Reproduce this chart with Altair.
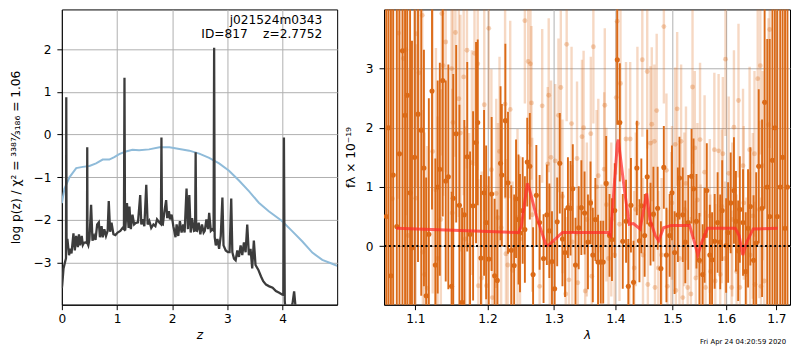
import altair as alt
import pandas as pd

FONT = "DejaVu Sans"

# ---------------- left panel: p(z) ----------------
pz_z = [0.000, 0.007, 0.030, 0.060, 0.075, 0.080, 0.085, 0.100, 0.130, 0.150,
        0.175, 0.210, 0.235, 0.260, 0.290, 0.310, 0.330, 0.360, 0.380, 0.400,
        0.430, 0.455, 0.460, 0.465, 0.480, 0.500, 0.530, 0.555, 0.585, 0.610,
        0.640, 0.670, 0.690, 0.720, 0.740, 0.770, 0.800, 0.830, 0.850, 0.875,
        0.900, 0.935, 0.970, 1.010, 1.060, 1.100, 1.125, 1.135, 1.145, 1.150,
        1.180, 1.210, 1.225, 1.250, 1.280, 1.310, 1.345, 1.380, 1.420, 1.440,
        1.465, 1.495, 1.530, 1.555, 1.585, 1.620, 1.660, 1.695, 1.725, 1.770,
        1.795, 1.805, 1.815, 1.830, 1.860, 1.890, 1.910, 1.940, 1.960, 1.990,
        2.020, 2.060, 2.080, 2.110, 2.140, 2.170, 2.200, 2.225, 2.260, 2.285,
        2.310, 2.335, 2.360, 2.395, 2.415, 2.425, 2.435, 2.450, 2.480, 2.510,
        2.540, 2.570, 2.590, 2.620, 2.650, 2.670, 2.700, 2.730, 2.750, 2.760,
        2.770, 2.790, 2.820, 2.850, 2.880, 2.910, 2.930, 2.970, 3.010, 3.040,
        3.070, 3.090, 3.120, 3.150, 3.180, 3.210, 3.240, 3.270, 3.300, 3.330,
        3.360, 3.390, 3.420, 3.450, 3.480, 3.510, 3.560, 3.610, 3.650, 3.700,
        3.760, 3.820, 3.880, 3.940, 3.990, 4.015, 4.025, 4.040, 4.060, 4.120,
        4.180, 4.210, 4.240]
pz_logp = [-3.60, -3.52, -3.14, -2.98, -2.90, 0.87, -2.50, -2.45, -2.83, -2.68,
           -2.79, -2.32, -2.72, -2.38, -2.64, -2.34, -2.60, -2.38, -2.59, -2.54,
           -2.53, -2.55, -0.30, -2.55, -2.60, -2.46, -1.65, -2.49, -2.38, -2.47,
           -2.11, -2.06, -2.41, -2.15, -2.41, -2.22, -2.38, -2.26, -1.56, -2.28,
           -2.07, -2.34, -2.36, -2.30, -2.26, -2.19, -2.22, 1.33, -2.25, -2.22,
           -1.61, -2.19, -1.69, -2.22, -1.88, -2.11, -2.07, -2.06, -1.42, -2.11,
           -1.99, -2.15, -1.18, -2.11, -2.03, -2.19, -2.11, -2.15, -1.99, -2.07,
           -2.10, -0.07, -2.10, -2.11, -1.80, -1.54, -1.96, -1.80, -1.99, -1.88,
           -2.15, -2.41, -2.11, -2.38, -2.03, -2.30, -2.11, -2.30, -1.27, -2.22,
           -1.42, -2.30, -1.96, -2.26, -2.25, -0.42, -2.25, -2.26, -2.07, -2.34,
           -2.11, -2.30, -2.26, -1.99, -2.22, -1.84, -2.26, -2.22, -2.25, 2.03,
           -2.40, -2.60, -2.45, -2.68, -2.38, -1.48, -2.60, -2.72, -2.76, -2.76,
           -1.50, -2.76, -2.91, -2.95, -2.72, -2.87, -2.60, -2.83, -2.53, -2.76,
           -2.11, -2.83, -2.68, -3.14, -2.49, -3.06, -3.17, -3.33, -3.44, -3.52,
           -3.56, -3.59, -3.67, -3.71, -3.75, -3.76, -0.07, -3.90, -4.20, -4.30,
           -3.97, -3.68, -4.10]

chi_z = [0.00, 0.048, 0.14, 0.26, 0.38, 0.50, 0.62, 0.74, 0.86, 0.95,
         1.04, 1.16, 1.28, 1.40, 1.58, 1.77, 1.95, 2.13, 2.31, 2.49,
         2.67, 2.85, 3.03, 3.21, 3.39, 3.57, 3.75, 3.99, 4.17, 4.36,
         4.54, 4.72, 4.90, 4.99]
chi_v = [-1.61, -1.27, -1.00, -0.79, -0.76, -0.74, -0.68, -0.59, -0.59, -0.53,
         -0.46, -0.40, -0.36, -0.37, -0.35, -0.30, -0.30, -0.34, -0.38, -0.45,
         -0.55, -0.68, -0.85, -1.08, -1.33, -1.60, -1.80, -2.03, -2.26, -2.51,
         -2.77, -2.94, -3.03, -3.08]

z_ticks = [0, 1, 2, 3, 4]
logp_ticks = [-3, -2, -1, 0, 1, 2]

# ---------------- right panel: spectrum ----------------
dark_lam = [1.062, 1.065, 1.068, 1.071, 1.0756, 1.0791, 1.083, 1.0864, 1.0893, 1.093,
            1.0955, 1.0990, 1.1035, 1.1078, 1.1114, 1.1144, 1.1180, 1.1223, 1.1268, 1.1300,
            1.1329, 1.1369, 1.1410, 1.1446, 1.1491, 1.1514, 1.1555, 1.1600, 1.1637, 1.1669,
            1.1710, 1.1750, 1.1793, 1.1835, 1.1859, 1.1905, 1.1950, 1.1980, 1.2018, 1.2060,
            1.2103, 1.2142, 1.2190, 1.2209, 1.2261, 1.2300, 1.2348, 1.2392, 1.2420, 1.2457,
            1.2479, 1.2520, 1.2553, 1.2589, 1.2628, 1.2678, 1.2728, 1.2778, 1.2839, 1.2890,
            1.2929, 1.2970, 1.3012, 1.3052, 1.3093, 1.3135, 1.3176, 1.3222, 1.3264, 1.3300,
            1.3343, 1.3395, 1.3438, 1.3490, 1.3545, 1.3587, 1.3625, 1.3667, 1.3711, 1.3755,
            1.3797, 1.3846, 1.3902, 1.3943, 1.3990, 1.4033, 1.4076, 1.4126, 1.4182, 1.4221,
            1.4266, 1.4311, 1.4368, 1.4413, 1.4446, 1.4504, 1.4549, 1.4607, 1.4658, 1.4733,
            1.4791, 1.4843, 1.4890, 1.4948, 1.4990, 1.5037, 1.5097, 1.5126, 1.5187, 1.5233,
            1.5287, 1.5348, 1.5385, 1.5439, 1.5494, 1.5555, 1.5591, 1.5633, 1.5690, 1.5733,
            1.5782, 1.5838, 1.5888, 1.5926, 1.6002, 1.6040, 1.6090, 1.6153, 1.6192, 1.6236,
            1.6268, 1.6331, 1.6384, 1.6430, 1.6476, 1.6540, 1.6592, 1.6643, 1.6710, 1.6762,
            1.6815, 1.6865, 1.6920, 1.6970, 1.7020, 1.7080, 1.7130, 1.7180, 1.7230]
dark_flux = [0.5, 2.0, -0.5, 1.2, 0.33, 1.56, 3.3, 2.21, 2.55, 0.9,
             -0.03, 1.5, 2.23, 1.96, 1.32, -0.84, 0.2, 2.62, -0.32, 1.0,
             1.3, 2.8, 1.1, 1.17, -0.68, 0.81, 1.9, 0.69, -0.95, 0.53,
             1.51, 0.2, 0.68, 1.75, 2.09, -0.2, 0.9, 0.4, -0.22, 0.88,
             -0.5, -0.58, 1.4, 1.2, 2.12, 1.07, -0.07, -0.33, 0.8, 0.45,
             0.22, 0.6, 0.28, 1.42, 1.35, -0.48, 0.86, 0.4, -0.21, 0.53,
             0.26, -0.26, -0.72, 0.41, 1.4, 0.12, -0.11, 0.65, 0.64, 0.97,
             -0.32, 0.31, 0.65, 0.56, 0.07, 0.73, -0.15, 0.45, -0.27, -0.27,
             -0.27, 1.06, 0.18, 0.11, 0.6, 3.15, 2.09, 0.08, 0.42, -0.68,
             0.69, -0.61, 1.32, 0.09, 0.68, 0.18, 1.17, 0.37, 0.54, 0.64,
             -0.38, 1.33, -0.15, 0.18, 0.9, -0.11, 0.53, 1.15, 0.53, 0.07,
             0.4, 1.18, 0.97, 0.42, -0.24, -0.48, 0.18, 0.94, -0.15, -0.23,
             0.08, 0.4, 0.07, 0.6, 0.01, 0.23, 0.73, 0.94, 0.42, -0.08,
             0.62, 0.4, -0.43, 0.3, 0.67, -0.24, 0.05, 1.35, 0.64, 2.43,
             1.0, 0.5, 1.45, 2.0, 0.5, 1.0, 1.5, 0.3, 1.0]
dark_err = [6, 6, 6, 6, 5, 5, 5, 4.5, 4, 4,
            3.5, 3, 2.5, 2.8, 2.0, 2.0, 2.3, 2.0, 1.8, 1.8,
            1.8, 2.3, 1.7, 1.9, 1.6, 2.1, 1.5, 1.7, 1.6, 1.6,
            1.6, 1.4, 1.6, 1.7, 1.4, 1.4, 1.4, 1.3, 1.4, 1.3,
            1.3, 1.2, 1.3, 1.2, 1.3, 1.2, 1.1, 1.2, 1.0, 1.1,
            1.0, 0.9, 0.9, 0.75, 0.9, 0.8, 0.85, 0.8, 0.75, 0.85,
            0.8, 0.85, 0.8, 0.75, 0.85, 0.8, 0.75, 0.85, 0.8, 0.75,
            0.8, 0.7, 0.8, 0.7, 0.8, 0.7, 0.8, 0.7, 0.8, 0.7,
            0.7, 0.8, 0.7, 0.7, 0.8, 1.1, 1.0, 0.8, 0.7, 0.8,
            0.8, 0.7, 0.8, 0.7, 0.8, 0.7, 0.8, 0.7, 0.8, 0.7,
            0.8, 0.7, 0.8, 0.7, 0.8, 0.7, 0.8, 0.7, 0.8, 0.7,
            0.8, 0.8, 0.85, 0.8, 0.8, 0.85, 0.8, 0.8, 0.85, 0.8,
            0.8, 0.85, 0.8, 0.85, 0.8, 0.85, 0.85, 0.9, 0.85, 0.85,
            0.9, 0.9, 1.0, 1.0, 1.0, 1.1, 1.2, 1.3, 1.5, 1.8,
            2.5, 3.0, 4.0, 6, 6, 6, 6, 6, 6]

light_lam = [1.0640, 1.0700, 1.0778, 1.0842, 1.0876, 1.0906, 1.1005, 1.1013, 1.1048, 1.1092,
             1.1100, 1.1123, 1.1157, 1.1232, 1.1276, 1.1299, 1.1343, 1.1356, 1.1375, 1.1410,
             1.1491, 1.1500, 1.1510, 1.1545, 1.1592, 1.1614, 1.1660, 1.1683, 1.1706, 1.1737,
             1.1775, 1.1813, 1.1859, 1.1868, 1.1915, 1.1953, 1.1985, 1.2018, 1.2056, 1.2070,
             1.2127, 1.2152, 1.2175, 1.2199, 1.2257, 1.2270, 1.2296, 1.2333, 1.2369, 1.2442,
             1.2480, 1.2553, 1.2603, 1.2638, 1.2653, 1.2665, 1.2778, 1.2818, 1.2904, 1.2919,
             1.2935, 1.2955, 1.3021, 1.3072, 1.3109, 1.3135, 1.3187, 1.3202, 1.3238, 1.3280,
             1.3291, 1.3368, 1.3380, 1.3448, 1.3474, 1.3501, 1.3527, 1.3592, 1.3608, 1.3634,
             1.3687, 1.3715, 1.3769, 1.3813, 1.3823, 1.3850, 1.3885, 1.3932, 1.3988, 1.4015,
             1.4031, 1.4071, 1.4087, 1.4181, 1.4238, 1.4253, 1.4322, 1.4349, 1.4378, 1.4463,
             1.4475, 1.4549, 1.4560, 1.4606, 1.4629, 1.4675, 1.4686, 1.4716, 1.4745, 1.4803,
             1.4844, 1.4890, 1.4908, 1.4978, 1.4990, 1.5049, 1.5060, 1.5084, 1.5126, 1.5156,
             1.5187, 1.5215, 1.5245, 1.5277, 1.5336, 1.5366, 1.5408, 1.5427, 1.5457, 1.5506,
             1.5518, 1.5591, 1.5609, 1.5690, 1.5701, 1.5776, 1.5794, 1.5857, 1.5888, 1.5918,
             1.5938, 1.5983, 1.5989, 1.6051, 1.6108, 1.6120, 1.6153, 1.6205, 1.6242, 1.6268,
             1.6331, 1.6345, 1.6396, 1.6461, 1.6470, 1.6525, 1.6558, 1.6570, 1.6623, 1.6656,
             1.6675, 1.6688, 1.6721, 1.6755, 1.6840, 1.6865]
light_flux = [2.0, 0.8, 3.6, 3.17, 3.32, 0.18, 0.81, 3.59, 2.93, 3.9,
              -0.1, -0.48, -0.71, 1.6, 0.95, -0.21, 0.45, 3.93, 3.05, 3.45,
              3.0, 0.56, 2.09, 3.61, 2.49, 1.91, 2.86, 0.12, 3.31, 0.01,
              1.41, 3.26, 3.08, -0.67, -0.54, 2.39, -0.67, 3.68, 1.29, -0.87,
              0.89, 0.48, 1.6, 0.31, 2.4, -0.13, -0.32, 2.31, -0.41, 0.48,
              0.12, 3.81, 3.12, 3.08, 2.42, 0.53, -0.68, 2.37, 1.39, 2.55,
              -0.29, 1.5, 1.44, 2.21, 2.68, 0.84, -0.81, 3.41, -0.57, 2.07,
              0.07, 1.48, -0.62, 1.85, 2.0, -0.76, 0.45, 1.9, -0.51, 3.37,
              1.0, 1.19, -0.26, 1.30, 2.38, 0.7, -0.21, 0.45, -0.15, 2.51,
              3.8, 0.37, 2.75, 1.81, 0.01, 1.81, -0.37, 0.62, 2.07, 3.15,
              -0.15, 2.95, -0.65, 1.74, 2.06, 1.77, -0.7, 2.29, -0.37, -0.15,
              3.71, 1.28, -0.68, 0.29, 0.73, 1.72, -0.75, 2.32, -0.21, 1.77,
              -0.87, 0.62, 1.06, -0.7, -0.81, 2.69, 1.66, -0.54, 0.78, 1.8,
              -0.26, 1.25, -0.7, 0.51, -0.43, 1.63, -0.59, 1.61, -0.48, 0.67,
              1.56, -0.21, 3.16, 1.23, -0.7, 0.45, 2.01, -0.43, 2.46, -0.7,
              1.36, 0.73, -0.48, 1.63, -0.15, 0.51, 1.56, -0.65, 2.83, 0.62,
              3.05, -0.68, 1.36, -0.59, 2.05, 3.66]
light_err = [3.5, 3.5, 2.8, 2.8, 2.8, 2.8, 2.6, 2.6, 2.6, 2.6,
             2.4, 2.4, 2.4, 2.4, 2.4, 2.4, 2.2, 2.4, 2.2, 2.2,
             2.1, 2.1, 2.1, 2.1, 2.0, 2.0, 2.0, 1.9, 2.0, 1.9,
             1.9, 1.9, 1.8, 1.8, 1.8, 1.8, 1.7, 1.7, 1.7, 1.7,
             1.6, 1.6, 1.6, 1.6, 1.6, 1.6, 1.5, 1.5, 1.5, 1.5,
             1.4, 1.4, 1.4, 1.4, 1.3, 1.3, 1.3, 1.3, 1.3, 1.3,
             1.3, 1.3, 1.3, 1.3, 1.3, 1.3, 1.3, 1.3, 1.3, 1.3,
             1.3, 1.3, 1.3, 1.3, 1.3, 1.3, 1.3, 1.3, 1.3, 1.3,
             1.3, 1.3, 1.3, 1.3, 1.3, 1.3, 1.3, 1.3, 1.3, 1.3,
             1.3, 1.3, 1.3, 1.3, 1.3, 1.3, 1.3, 1.3, 1.3, 1.3,
             1.3, 1.3, 1.3, 1.3, 1.3, 1.3, 1.3, 1.3, 1.3, 1.3,
             1.3, 1.3, 1.3, 1.3, 1.3, 1.3, 1.3, 1.3, 1.3, 1.3,
             1.3, 1.3, 1.3, 1.3, 1.3, 1.3, 1.3, 1.3, 1.3, 1.3,
             1.3, 1.3, 1.3, 1.3, 1.3, 1.3, 1.3, 1.3, 1.3, 1.3,
             1.3, 1.3, 1.3, 1.3, 1.3, 1.3, 1.3, 1.3, 1.3, 1.3,
             1.3, 1.3, 1.3, 1.4, 1.4, 1.4, 1.4, 1.4, 1.5, 1.5,
             1.5, 1.5, 1.6, 1.6, 1.8, 2.0]

model_lam = [1.0749, 1.2457, 1.2500, 1.2590, 1.2620, 1.2728, 1.2879, 1.2924, 1.3135, 1.3878,
             1.3920, 1.4033, 1.4050, 1.4154, 1.4238, 1.4309, 1.4424, 1.4539, 1.4597, 1.4690,
             1.4751, 1.4838, 1.4976, 1.5313, 1.5433, 1.5464, 1.5540, 1.5647, 1.6178, 1.6254,
             1.6326, 1.6405, 1.6533, 1.7029]
model_flux = [0.30, 0.23, 0.34, 1.06, 0.97, 0.51, 0.01, 0.02, 0.23, 0.23,
              0.18, 1.72, 1.80, 0.95, 0.37, 0.38, 0.29, 0.89, 0.45, 0.18,
              0.09, 0.31, 0.35, 0.35, -0.04, -0.15, 0.07, 0.30, 0.30, 0.18,
              -0.15, 0.07, 0.29, 0.30]

lam_ticks = [1.1, 1.2, 1.3, 1.4, 1.5, 1.6, 1.7]
flux_ticks = [0, 1, 2, 3]
zero_level = [0]

# ---------------- build tables ----------------
pz_df = pd.DataFrame({"z": pz_z, "v": pz_logp})
chi_df = pd.DataFrame({"z": chi_z, "v": chi_v})
dark_df = pd.DataFrame({"lam": dark_lam, "f": dark_flux, "err": dark_err})
dark_df["lo"] = dark_df["f"] - dark_df["err"]
dark_df["hi"] = dark_df["f"] + dark_df["err"]
light_df = pd.DataFrame({"lam": light_lam, "f": light_flux, "err": light_err})
light_df["lo"] = light_df["f"] - light_df["err"]
light_df["hi"] = light_df["f"] + light_df["err"]
model_df = pd.DataFrame({"lam": model_lam, "f": model_flux})
zero_df = pd.DataFrame({"f": zero_level})

ORANGE = "#DB6A17"

# left panel encodings
xz = alt.X("z:Q", scale=alt.Scale(domain=[0, 4.99], nice=False, zero=False),
           axis=alt.Axis(values=z_ticks, format="d", title="z", titleFontStyle="italic",
                         labelFlush=False, titlePadding=4))
yv = alt.Y("v:Q", scale=alt.Scale(domain=[-3.99, 2.93], nice=False, zero=False),
           axis=alt.Axis(values=logp_ticks, format="d",
                         title="log p(z) / χ² = ³³⁸⁷⁄₃₁₈₆ = 1.06", titlePadding=11))

W1, W2, H = 276, 407, 296

chi_line = alt.Chart(chi_df).mark_line(color="#8fbbd9", strokeWidth=2, clip=True).encode(x=xz, y=yv)
pz_line = alt.Chart(pz_df).mark_line(color="#3c3c3c", strokeWidth=2.3, clip=True).encode(x=xz, y=yv)
label1 = alt.Chart(pd.DataFrame({"t": ["j021524m0343"]})).mark_text(
    align="right", baseline="top", font=FONT, fontSize=12.2, color="black"
).encode(x=alt.value(261), y=alt.value(5), text="t:N")
label2 = alt.Chart(pd.DataFrame({"t": ["ID=817\u00a0\u00a0\u00a0\u00a0z=2.7752"]})).mark_text(
    align="right", baseline="top", font=FONT, fontSize=12.2, color="black"
).encode(x=alt.value(261), y=alt.value(19), text="t:N")

left = alt.layer(chi_line, pz_line, label1, label2).properties(width=W1, height=H)

# right panel encodings
xl = alt.X("lam:Q", scale=alt.Scale(type="log", domain=[1.0592, 1.7283], nice=False, zero=False),
           axis=alt.Axis(values=lam_ticks, format=".1f", title="λ", titleFontStyle="italic",
                         labelFlush=False, titlePadding=4))
yaxis = alt.Axis(values=flux_ticks, format="d", title="fλ × 10⁻¹⁹", titlePadding=8)
yscale = alt.Scale(domain=[-0.99, 4.0], nice=False, zero=False)

light_bars = alt.Chart(light_df).mark_rule(color=ORANGE, opacity=0.26, strokeWidth=2.4, clip=True).encode(
    x=xl, y=alt.Y("lo:Q", scale=yscale, axis=yaxis), y2="hi:Q")
light_pts = alt.Chart(light_df).mark_circle(color=ORANGE, opacity=0.3, size=24, clip=True).encode(
    x=xl, y=alt.Y("f:Q", scale=yscale, axis=yaxis))
dark_bars = alt.Chart(dark_df).mark_rule(color=ORANGE, opacity=1, strokeWidth=1.9, clip=True).encode(
    x=xl, y=alt.Y("lo:Q", scale=yscale, axis=yaxis), y2="hi:Q")
dark_pts = alt.Chart(dark_df).mark_circle(color=ORANGE, opacity=1, size=26, clip=True).encode(
    x=xl, y=alt.Y("f:Q", scale=yscale, axis=yaxis))
model_line = alt.Chart(model_df).mark_line(color="#ff2a2a", opacity=0.72, strokeWidth=3, clip=True).encode(
    x=xl, y=alt.Y("f:Q", scale=yscale, axis=yaxis))
zero_rule = alt.Chart(zero_df).mark_rule(color="black", strokeWidth=2, strokeDash=[2, 2.6]).encode(
    y=alt.Y("f:Q", scale=yscale, axis=yaxis))
stamp = alt.Chart(pd.DataFrame({"t": ["Fri Apr 24 04:20:59 2020"]})).mark_text(
    align="right", baseline="alphabetic", font=FONT, fontSize=6.9, color="black"
).encode(x=alt.value(403), y=alt.value(335), text="t:N")

right = alt.layer(light_bars, light_pts, dark_bars, dark_pts, model_line, zero_rule, stamp).properties(
    width=W2, height=H)

chart = alt.hconcat(left, right, spacing=5).properties(
    padding={"left": 0, "top": 0, "right": 0, "bottom": 0}
).configure_view(
    stroke="black", strokeWidth=1
).configure_axis(
    grid=True, gridColor="#b0b0b0", gridWidth=1,
    domainColor="black", domainWidth=1,
    tickColor="black", tickSize=5, tickWidth=1,
    labelFont=FONT, labelFontSize=12.2, labelColor="black",
    titleFont=FONT, titleFontSize=12.2, titleColor="black", titleFontWeight="normal",
    labelOverlap=False
).configure_axisX(
    labelPadding=3
).configure_axisY(
    labelPadding=6
)

chart.save("out.html", embed_options={"renderer": "svg", "actions": False})
